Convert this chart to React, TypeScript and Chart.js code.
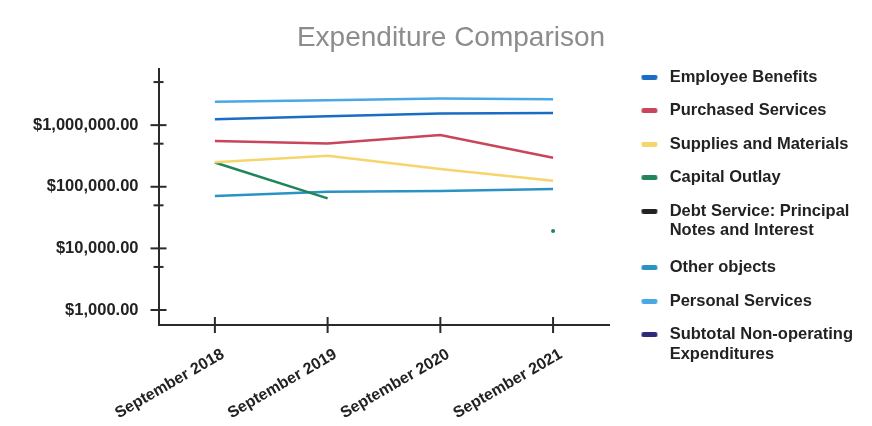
import React, { useEffect, useRef } from 'react';
import { Chart, registerables } from 'chart.js';

Chart.register(...registerables);

const FONT = "'Liberation Sans', Arial, Helvetica, sans-serif";

const categories = ['September 2018', 'September 2019', 'September 2020', 'September 2021'];

const seriesNames = [
  'Employee Benefits',
  'Purchased Services',
  'Supplies and Materials',
  'Capital Outlay',
  'Debt Service: Principal\nNotes and Interest',
  'Other objects',
  'Personal Services',
  'Subtotal Non-operating\nExpenditures',
];

const employeeBenefits = [1250000, 1400000, 1550000, 1580000];
const purchasedServices = [551000, 505000, 689000, 295000];
const suppliesAndMaterials = [251000, 318000, 194000, 125000];
const capitalOutlay = [248000, 64900, null, 19100];
const debtService = [null, null, null, null];
const otherObjects = [70600, 83000, 85000, 91800];
const personalServices = [2390000, 2540000, 2700000, 2640000];
const subtotalNonOperating = [null, null, null, null];

const seriesColors = ['#1a6cc4', '#c8455a', '#f6d56c', '#22845a', '#222222', '#2a93c4', '#4aa8e6', '#2e2a78'];

const yTickValues = [1000, 5000, 10000, 50000, 100000, 500000, 1000000, 5000000];
const yLabeledTicks = [1000, 10000, 100000, 1000000];
const yMin = 571;
const yMax = 8090000;

function makeSwatch(color: string): HTMLCanvasElement {
  const c = document.createElement('canvas');
  c.width = 35;
  c.height = 5;
  const g = c.getContext('2d')!;
  g.fillStyle = color;
  g.beginPath();
  if ((g as any).roundRect) (g as any).roundRect(15, 0, 16, 5, 2);
  else g.rect(15, 0, 16, 5);
  g.fill();
  return c;
}

const crossTicks = {
  id: 'crossTicks',
  afterDraw(chart: any) {
    const ctx = chart.ctx;
    const ys = chart.scales.y;
    const xs = chart.scales.x;
    ctx.save();
    ctx.strokeStyle = '#2a2a2a';
    ctx.lineWidth = 2;
    ys.ticks.forEach((t: any) => {
      const py = ys.getPixelForValue(t.value);
      const len = yLabeledTicks.includes(t.value) ? 8 : 5;
      ctx.beginPath();
      ctx.moveTo(ys.right - len, py);
      ctx.lineTo(ys.right + len, py);
      ctx.stroke();
    });
    xs.ticks.forEach((_t: any, i: number) => {
      const px = xs.getPixelForTick(i);
      ctx.beginPath();
      ctx.moveTo(px, xs.top - 8);
      ctx.lineTo(px, xs.top + 8);
      ctx.stroke();
    });
    ctx.restore();
  },
};

const titleShift = {
  id: 'titleShift',
  afterLayout(chart: any) {
    if (chart.titleBlock) chart.titleBlock.left += 18;
  },
};

export default function App() {
  const ref = useRef<HTMLCanvasElement | null>(null);

  useEffect(() => {
    if (!ref.current) return;
    const values = [
      employeeBenefits,
      purchasedServices,
      suppliesAndMaterials,
      capitalOutlay,
      debtService,
      otherObjects,
      personalServices,
      subtotalNonOperating,
    ];
    const swatches = seriesColors.map(makeSwatch);
    const chart = new Chart(ref.current, {
      type: 'line',
      data: {
        labels: categories,
        datasets: values.map((data, i) => ({
          label: seriesNames[i],
          data,
          borderColor: seriesColors[i],
          backgroundColor: seriesColors[i],
          borderWidth: 2.5,
          pointBackgroundColor: seriesColors[i],
          pointBorderWidth: 0,
          pointRadius: (c: any) => {
            const d = c.dataset.data;
            const k = c.dataIndex;
            if (d[k] == null) return 0;
            const prev = k > 0 ? d[k - 1] : null;
            const next = k < d.length - 1 ? d[k + 1] : null;
            return prev == null && next == null ? 2 : 0;
          },
          fill: false,
          tension: 0,
        })),
      },
      options: {
        animation: false,
        responsive: true,
        maintainAspectRatio: false,
        layout: { padding: { left: 21, right: 9, top: 0, bottom: -9 } },
        plugins: {
          tooltip: { enabled: false },
          title: {
            display: true,
            text: 'Expenditure Comparison',
            color: '#8c8c8c',
            font: { family: FONT, size: 28, weight: 'normal' },
            padding: { top: 21, bottom: 14.6 },
          },
          legend: {
            position: 'right',
            align: 'center',
            maxWidth: 300,
            labels: {
              usePointStyle: true,
              pointStyleWidth: 35,
              padding: 17,
              color: '#222',
              font: { family: FONT, size: 16.5, weight: 'bold', lineHeight: 1.2 },
              generateLabels: (ch: any) => {
                const items = (Chart as any).defaults.plugins.legend.labels.generateLabels(ch);
                return items.map((it: any, i: number) => ({
                  ...it,
                  text: typeof it.text === 'string' && it.text.includes('\n') ? it.text.split('\n') : it.text,
                  pointStyle: swatches[i],
                }));
              },
            },
          },
        },
        scales: {
          x: {
            type: 'category',
            offset: true,
            grid: { display: true, offset: false, drawOnChartArea: false, color: 'rgba(0,0,0,0)', tickLength: 8 },
            border: { display: true, color: '#2a2a2a', width: 2 },
            ticks: {
              color: '#222',
              font: { family: FONT, size: 16, weight: 'bold' },
              minRotation: 30,
              maxRotation: 30,
              padding: 12,
              labelOffset: 8,
              autoSkip: false,
            },
          },
          y: {
            type: 'logarithmic',
            min: yMin,
            max: yMax,
            afterBuildTicks: (s: any) => {
              s.ticks = yTickValues.map((v) => ({ value: v }));
            },
            grid: { display: true, drawOnChartArea: false, color: 'rgba(0,0,0,0)', tickLength: 8 },
            border: { display: true, color: '#2a2a2a', width: 2 },
            ticks: {
              autoSkip: false,
              color: '#222',
              padding: 12,
              font: { family: FONT, size: 16.5, weight: 'bold' },
              callback: (v: any) =>
                yLabeledTicks.includes(Number(v))
                  ? '$' + Number(v).toLocaleString('en-US', { minimumFractionDigits: 2, maximumFractionDigits: 2 })
                  : '',
            },
          },
        },
      },
      plugins: [crossTicks, titleShift],
    } as any);
    return () => chart.destroy();
  }, []);

  return (
    <div style={{ position: 'fixed', left: 0, top: 0, width: 872, height: 426, background: '#fff' }}>
      <canvas ref={ref} />
    </div>
  );
}
